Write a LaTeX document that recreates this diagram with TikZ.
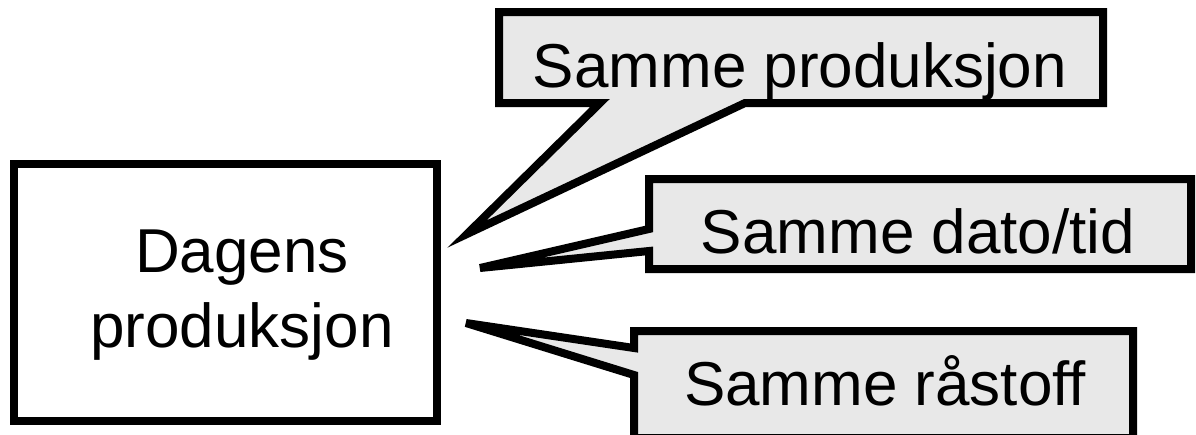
\documentclass[tikz,border=0pt]{standalone}
\usepackage{fontspec}
\setmainfont{Liberation Sans}
\definecolor{calloutgray}{HTML}{E8E8E8}
\begin{document}
\begin{tikzpicture}[x=1pt,y=-1pt,
  callout/.style={draw=black,line width=8pt,fill=calloutgray},
  mainbox/.style={draw=black,line width=8pt,fill=white},
  lbl/.style={font=\fontsize{62}{75}\selectfont,anchor=base,inner sep=0pt}]
\useasboundingbox (0,0) rectangle (1196,434);
% main box
\draw[mainbox] (14,164) rectangle (437,421);
\node[lbl] (main1) at (242,272) {Dagens};
\node[lbl] (main2) at (242,347) {produksjon};
% tips of the callouts
\coordinate (tip1) at (467,234);
\coordinate (tip2) at (480,268);
\coordinate (tip3) at (466,323);
% callout 1
\draw[callout] (499,12) -- (1103,12) -- (1103,103) -- (745,103) -- (tip1) -- (600,103) -- (499,103) -- cycle;
\node[lbl] (c1) at (800,87) {Samme produksjon};
% callout 2
\draw[callout] (649,179) -- (1191,179) -- (1191,269) -- (649,269) -- (649,251) -- (tip2) -- (649,229) -- cycle;
\node[lbl] (c2) at (918,253) {Samme dato/tid};
% callout 3
\draw[callout] (634,331) -- (1133,331) -- (1133,438) -- (634,438) -- (634,375) -- (tip3) -- (634,348) -- cycle;
\node[lbl] (c3) at (885,405) {Samme råstoff};
\end{tikzpicture}
\end{document}
